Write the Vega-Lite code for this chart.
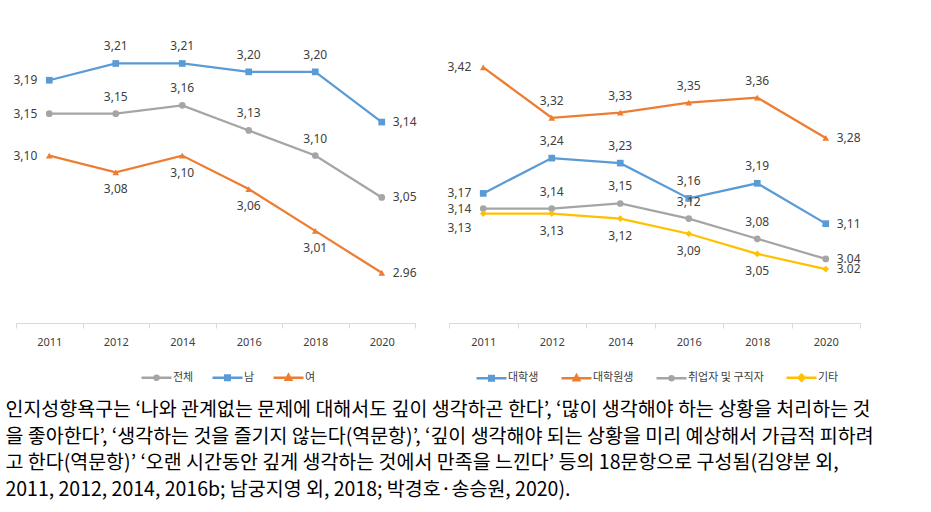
{
  "$schema": "https://vega.github.io/schema/vega-lite/v6.json",
  "background": "white",
  "padding": {"left": 5, "top": 30, "right": 5, "bottom": 0},
  "datasets": {
    "left": [
      {"year": "2011", "s": "전체", "v": 3.15, "lab": "3,15"},
      {"year": "2012", "s": "전체", "v": 3.15, "lab": "3,15"},
      {"year": "2014", "s": "전체", "v": 3.16, "lab": "3,16"},
      {"year": "2016", "s": "전체", "v": 3.13, "lab": "3,13"},
      {"year": "2018", "s": "전체", "v": 3.10, "lab": "3,10"},
      {"year": "2020", "s": "전체", "v": 3.05, "lab": "3,05"},
      {"year": "2011", "s": "남", "v": 3.19, "lab": "3,19"},
      {"year": "2012", "s": "남", "v": 3.21, "lab": "3,21"},
      {"year": "2014", "s": "남", "v": 3.21, "lab": "3,21"},
      {"year": "2016", "s": "남", "v": 3.20, "lab": "3,20"},
      {"year": "2018", "s": "남", "v": 3.20, "lab": "3,20"},
      {"year": "2020", "s": "남", "v": 3.14, "lab": "3,14"},
      {"year": "2011", "s": "여", "v": 3.10, "lab": "3,10"},
      {"year": "2012", "s": "여", "v": 3.08, "lab": "3,08"},
      {"year": "2014", "s": "여", "v": 3.10, "lab": "3,10"},
      {"year": "2016", "s": "여", "v": 3.06, "lab": "3,06"},
      {"year": "2018", "s": "여", "v": 3.01, "lab": "3,01"},
      {"year": "2020", "s": "여", "v": 2.96, "lab": "2.96"}
    ],
    "right": [
      {"year": "2011", "s": "대학생", "v": 3.17, "lab": "3,17"},
      {"year": "2012", "s": "대학생", "v": 3.24, "lab": "3,24"},
      {"year": "2014", "s": "대학생", "v": 3.23, "lab": "3,23"},
      {"year": "2016", "s": "대학생", "v": 3.16, "lab": "3,16"},
      {"year": "2018", "s": "대학생", "v": 3.19, "lab": "3,19"},
      {"year": "2020", "s": "대학생", "v": 3.11, "lab": "3,11"},
      {"year": "2011", "s": "대학원생", "v": 3.42, "lab": "3,42"},
      {"year": "2012", "s": "대학원생", "v": 3.32, "lab": "3,32"},
      {"year": "2014", "s": "대학원생", "v": 3.33, "lab": "3,33"},
      {"year": "2016", "s": "대학원생", "v": 3.35, "lab": "3,35"},
      {"year": "2018", "s": "대학원생", "v": 3.36, "lab": "3,36"},
      {"year": "2020", "s": "대학원생", "v": 3.28, "lab": "3,28"},
      {"year": "2011", "s": "취업자 및 구직자", "v": 3.14, "lab": "3,14"},
      {"year": "2012", "s": "취업자 및 구직자", "v": 3.14, "lab": "3,14"},
      {"year": "2014", "s": "취업자 및 구직자", "v": 3.15, "lab": "3,15"},
      {"year": "2016", "s": "취업자 및 구직자", "v": 3.12, "lab": "3,12"},
      {"year": "2018", "s": "취업자 및 구직자", "v": 3.08, "lab": "3,08"},
      {"year": "2020", "s": "취업자 및 구직자", "v": 3.04, "lab": "3.04"},
      {"year": "2011", "s": "기타", "v": 3.13, "lab": "3,13"},
      {"year": "2012", "s": "기타", "v": 3.13, "lab": "3,13"},
      {"year": "2014", "s": "기타", "v": 3.12, "lab": "3,12"},
      {"year": "2016", "s": "기타", "v": 3.09, "lab": "3,09"},
      {"year": "2018", "s": "기타", "v": 3.05, "lab": "3,05"},
      {"year": "2020", "s": "기타", "v": 3.02, "lab": "3.02"}
    ]
  },
  "title": {
    "text": [
      "인지성향욕구는 ‘나와 관계없는 문제에 대해서도 깊이 생각하곤 한다’, ‘많이 생각해야 하는 상황을 처리하는 것",
      "을 좋아한다’, ‘생각하는 것을 즐기지 않는다(역문항)’, ‘깊이 생각해야 되는 상황을 미리 예상해서 가급적 피하려",
      "고 한다(역문항)’ ‘오랜 시간동안 깊게 생각하는 것에서 만족을 느낀다’ 등의 18문항으로 구성됨(김양분 외,",
      "2011, 2012, 2014, 2016b; 남궁지영 외, 2018; 박경호·송승원, 2020)."
    ],
    "orient": "bottom",
    "anchor": "start",
    "dx": -8,
    "offset": 15,
    "font": "Noto Sans CJK KR",
    "fontSize": 19.5,
    "fontWeight": "normal",
    "color": "#000000",
    "lineHeight": 26.7
  },
  "spacing": 30,
  "resolve": {"scale": {"color": "independent", "x": "independent", "y": "independent"}, "legend": {"color": "independent"}},
  "hconcat": [
    {
      "width": 399,
      "height": 293,
      "data": {"name": "left"},
      "encoding": {
        "x": {"field": "year", "type": "nominal", "sort": ["2011", "2012", "2014", "2016", "2018", "2020"],
              "scale": {"paddingInner": 0, "paddingOuter": 0},
              "axis": {"title": null, "labelAngle": 0, "domainColor": "#d9d9d9", "tickColor": "#d9d9d9", "tickBand": "extent", "tickSize": 5, "labelPadding": 8, "labelFont": "Noto Sans", "labelFontSize": 11, "labelColor": "#404040"}},
        "y": {"field": "v", "type": "quantitative", "scale": {"domain": [2.9, 3.25], "zero": false, "nice": false}, "axis": null},
        "color": {"field": "s", "type": "nominal",
          "scale": {"domain": ["전체", "남", "여"], "range": ["#A5A5A5", "#5B9BD5", "#ED7D31"]},
          "legend": {"title": null, "orient": "none", "direction": "horizontal", "legendX": 124, "legendY": 331,
            "symbolSize": 900, "symbolStrokeWidth": 2.5, "labelOffset": 0, "columnPadding": 13, "padding": 0,
            "labelFont": "Noto Sans CJK KR", "labelFontSize": 11, "labelColor": "#404040",
            "encode": {"symbols": {"update": {"shape": {"signal": "datum.value === '전체' ? 'M-1,0H1M0.13,0A0.13,0.13,0,1,1,-0.13,0A0.13,0.13,0,1,1,0.13,0Z' : datum.value === '남' ? 'M-1,0H1M-0.15,-0.15H0.15V0.15H-0.15Z' : 'M-1,0H1M0,-0.2L0.18,0.13H-0.18Z'"}}}}}
        }
      },
      "layer": [
        {"mark": {"type": "line", "strokeWidth": 2.25}},
        {"transform": [{"filter": "datum.s == '전체'"}], "mark": {"type": "point", "filled": true, "opacity": 1, "size": 45, "shape": "circle"}},
        {"transform": [{"filter": "datum.s == '남'"}], "mark": {"type": "point", "filled": true, "opacity": 1, "size": 45, "shape": "square"}},
        {"transform": [{"filter": "datum.s == '여'"}], "mark": {"type": "point", "filled": true, "opacity": 1, "size": 45, "shape": "triangle-up"}},
        {
          "transform": [{"filter": "datum.year == '2011'"}],
          "mark": {"type": "text", "align": "right", "baseline": "middle", "dx": -12, "font": "Noto Sans", "fontSize": 12},
          "encoding": {"text": {"field": "lab"}, "color": {"value": "#404040"}}
        },
        {
          "transform": [{"filter": "datum.year == '2020'"}],
          "mark": {"type": "text", "align": "left", "baseline": "middle", "dx": 11, "font": "Noto Sans", "fontSize": 12},
          "encoding": {"text": {"field": "lab"}, "color": {"value": "#404040"}}
        },
        {
          "transform": [{"filter": "datum.year != '2011' && datum.year != '2020' && datum.s != '여'"}],
          "mark": {"type": "text", "align": "center", "baseline": "middle", "dy": -17, "font": "Noto Sans", "fontSize": 12},
          "encoding": {"text": {"field": "lab"}, "color": {"value": "#404040"}}
        },
        {
          "transform": [{"filter": "datum.year != '2011' && datum.year != '2020' && datum.s == '여'"}],
          "mark": {"type": "text", "align": "center", "baseline": "middle", "dy": 17, "font": "Noto Sans", "fontSize": 12},
          "encoding": {"text": {"field": "lab"}, "color": {"value": "#404040"}}
        }
      ]
    },
    {
      "width": 411,
      "height": 293,
      "data": {"name": "right"},
      "encoding": {
        "x": {"field": "year", "type": "nominal", "sort": ["2011", "2012", "2014", "2016", "2018", "2020"],
              "scale": {"paddingInner": 0, "paddingOuter": 0},
              "axis": {"title": null, "labelAngle": 0, "domainColor": "#d9d9d9", "tickColor": "#d9d9d9", "tickBand": "extent", "tickSize": 5, "labelPadding": 8, "labelFont": "Noto Sans", "labelFontSize": 11, "labelColor": "#404040"}},
        "y": {"field": "v", "type": "quantitative", "scale": {"domain": [2.913, 3.494], "zero": false, "nice": false}, "axis": null},
        "color": {"field": "s", "type": "nominal",
          "scale": {"domain": ["대학생", "대학원생", "취업자 및 구직자", "기타"], "range": ["#5B9BD5", "#ED7D31", "#A5A5A5", "#FFC000"]},
          "legend": {"title": null, "orient": "none", "direction": "horizontal", "legendX": 26, "legendY": 331,
            "symbolSize": 900, "symbolStrokeWidth": 2.5, "labelOffset": 0, "columnPadding": 17, "padding": 0,
            "labelFont": "Noto Sans CJK KR", "labelFontSize": 11, "labelColor": "#404040",
            "encode": {"symbols": {"update": {"shape": {"signal": "datum.value === '취업자 및 구직자' ? 'M-1,0H1M0.13,0A0.13,0.13,0,1,1,-0.13,0A0.13,0.13,0,1,1,0.13,0Z' : datum.value === '대학생' ? 'M-1,0H1M-0.15,-0.15H0.15V0.15H-0.15Z' : datum.value === '대학원생' ? 'M-1,0H1M0,-0.2L0.18,0.13H-0.18Z' : 'M-1,0H1M0,-0.2L0.2,0L0,0.2L-0.2,0Z'"}}}}}
        }
      },
      "layer": [
        {"mark": {"type": "line", "strokeWidth": 2.25}},
        {"transform": [{"filter": "datum.s == '대학생'"}], "mark": {"type": "point", "filled": true, "opacity": 1, "size": 45, "shape": "square"}},
        {"transform": [{"filter": "datum.s == '대학원생'"}], "mark": {"type": "point", "filled": true, "opacity": 1, "size": 45, "shape": "triangle-up"}},
        {"transform": [{"filter": "datum.s == '취업자 및 구직자'"}], "mark": {"type": "point", "filled": true, "opacity": 1, "size": 45, "shape": "circle"}},
        {"transform": [{"filter": "datum.s == '기타'"}], "mark": {"type": "point", "filled": true, "opacity": 1, "size": 45, "shape": "diamond"}},
        {
          "transform": [{"filter": "datum.year == '2011' && datum.s != '기타'"}],
          "mark": {"type": "text", "align": "right", "baseline": "middle", "dx": -12, "font": "Noto Sans", "fontSize": 12},
          "encoding": {"text": {"field": "lab"}, "color": {"value": "#404040"}}
        },
        {
          "transform": [{"filter": "datum.year == '2011' && datum.s == '기타'"}],
          "mark": {"type": "text", "align": "right", "baseline": "middle", "dx": -12, "dy": 14, "font": "Noto Sans", "fontSize": 12},
          "encoding": {"text": {"field": "lab"}, "color": {"value": "#404040"}}
        },
        {
          "transform": [{"filter": "datum.year == '2020'"}],
          "mark": {"type": "text", "align": "left", "baseline": "middle", "dx": 11, "font": "Noto Sans", "fontSize": 12},
          "encoding": {"text": {"field": "lab"}, "color": {"value": "#404040"}}
        },
        {
          "transform": [{"filter": "datum.year != '2011' && datum.year != '2020' && datum.s != '기타'"}],
          "mark": {"type": "text", "align": "center", "baseline": "middle", "dy": -17, "font": "Noto Sans", "fontSize": 12},
          "encoding": {"text": {"field": "lab"}, "color": {"value": "#404040"}}
        },
        {
          "transform": [{"filter": "datum.year != '2011' && datum.year != '2020' && datum.s == '기타'"}],
          "mark": {"type": "text", "align": "center", "baseline": "middle", "dy": 17, "font": "Noto Sans", "fontSize": 12},
          "encoding": {"text": {"field": "lab"}, "color": {"value": "#404040"}}
        }
      ]
    }
  ],
  "config": {"view": {"stroke": null}}
}
